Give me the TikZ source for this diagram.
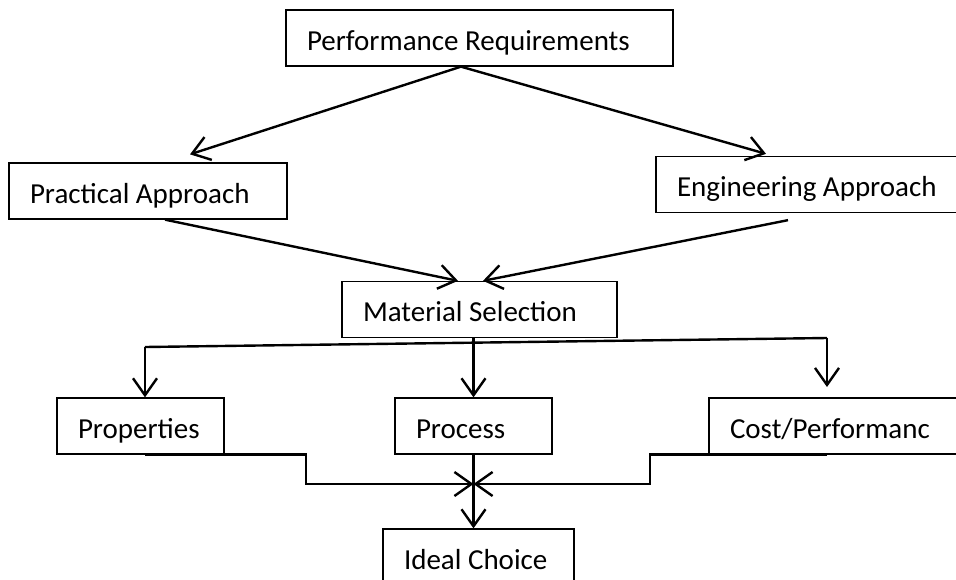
\documentclass[tikz,border=0pt]{standalone}
\usepackage{fontspec}
\setmainfont{Carlito}
\usetikzlibrary{arrows.meta}

\tikzset{
	tbox/.style={draw, rectangle, line width=1.3pt, inner xsep=21pt, inner ysep=0pt, minimum height=56pt, align=flush left, text height=27pt, text depth=3pt, font=\fontsize{29}{34}\selectfont},
	link/.style={line width=2.4pt, -{Straight Barb[length=17pt,width=24pt]}},
	rail/.style={line width=2.4pt}
}

\begin{document}
\begin{tikzpicture}[x=1pt, y=-1pt]
			%%%%% START %%%%%
			\useasboundingbox (0, 0) rectangle (956, 579);
			\clip (0, 0) rectangle (956, 579);
			
			\node[tbox, text width=345pt] (perf) at (479.5, 38) {Performance Requirements};
			\node[tbox, text width=236pt] (prac) at (148, 191) {Practical Approach};
			\node[tbox, text width=282pt] (eng) at (818, 184.5) {Engineering Approach};
			\node[tbox, text width=233pt] (mat) at (479.5, 309.5) {Material Selection};
			
			\node[tbox, text width=125pt] (prop) at (140.5, 426) {Properties};
			\node[tbox, text width=115pt] (proc) at (473.5, 426) {Process};
			\node[tbox, text width=229pt] (cost) at (844.5, 426) {Cost/Performanc};
			\node[tbox, text width=149pt] (ideal) at (478.5, 557) {Ideal Choice};
			
			\coordinate (ltop) at (145, 347);
			\coordinate (rtop) at (827, 338);
			\coordinate (rtip) at (827, 387);
			\coordinate (lstep) at (306, 484);
			\coordinate (rstep) at (650, 484);
			
			\draw[link] ([xshift=-18.5pt]perf.south) -- ([xshift=42pt, yshift=8pt]prac.north);
			\draw[link] ([xshift=-18.5pt]perf.south) -- ([xshift=-52pt, yshift=2pt]eng.north);
			\draw[link] ([xshift=17pt]prac.south) -- ([xshift=-21.5pt]mat.north);
			\draw[link] ([xshift=-30pt, yshift=-7pt]eng.south) -- ([xshift=3.5pt]mat.north);
			
			\draw[rail] (ltop) -- (rtop);
			\draw[link] (ltop) -- (prop.north -| ltop);
			\draw[link] (rtop) -- (rtip);
			\draw[link] (proc.north |- mat.south) -- (proc.north);
			
			\draw[link] (prop.south -| ltop) -| (lstep) -- (proc.south |- lstep);
			\draw[link] (cost.south -| rtop) -| (rstep) -- (proc.south |- rstep);
			\draw[link] (proc.south) -- (ideal.north -| proc.south);
			
			%%%%% END %%%%%
\end{tikzpicture}
\end{document}
